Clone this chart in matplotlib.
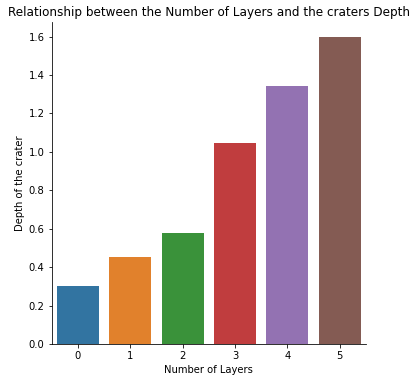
import matplotlib
matplotlib.use("Agg")
import matplotlib.pyplot as plt
import seaborn as sns

layers = ["0", "1", "2", "3", "4", "5"]
depths = [0.30, 0.454, 0.579, 1.048, 1.341, 1.596]

plt.rcParams['font.family'] = ['DejaVu Sans']

colors = [sns.desaturate(c, 0.75) for c in sns.color_palette("tab10", len(layers))]

fig = plt.figure(figsize=(416/72, 382/72), dpi=72)
ax = fig.add_axes([0.1238, 0.0995, 0.7562, 0.8429])
x = range(len(layers))
ax.bar(x, depths, width=0.8, color=colors)
ax.set_xticks(list(x))
ax.set_xticklabels(layers)
ax.set_xlim(-0.5, len(layers) - 0.5)
ax.set_ylim(0, max(depths) * 1.05)
ax.set_yticks([0.0, 0.2, 0.4, 0.6, 0.8, 1.0, 1.2, 1.4, 1.6])
ax.set_xlabel("Number of Layers", fontsize=10)
ax.set_ylabel("Depth of the crater", fontsize=10)
ax.tick_params(labelsize=10)
ax.set_title("Relationship between the Number of Layers and the craters Depth", fontsize=12)
ax.spines['top'].set_visible(False)
ax.spines['right'].set_visible(False)
fig.savefig("out.png", dpi=72, facecolor="white")
